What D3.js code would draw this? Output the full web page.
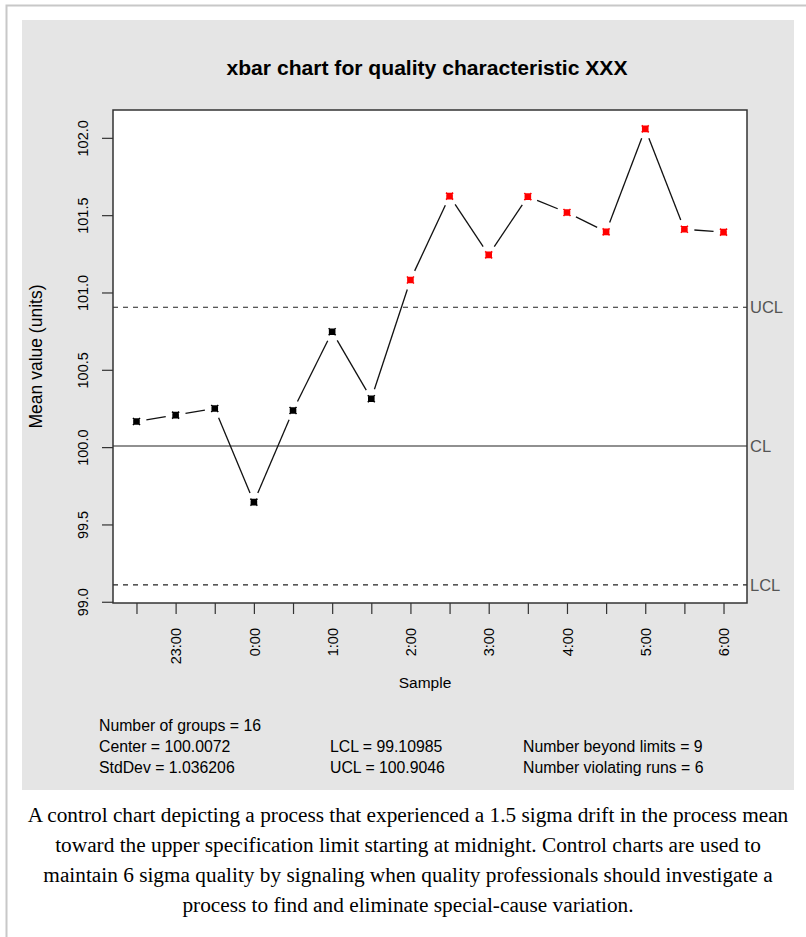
<!DOCTYPE html>
<html lang="en">
<head>
  <meta charset="UTF-8">
  <title>xbar chart</title>
  <style>
    body { margin: 0; background: #fff; }
  </style>
</head>
<body>
  <script src="https://d3js.org/d3.v7.min.js"></script>
  <script>
    // sample index, time labels (every second sample is labelled)
    const samples = d3.range(1, 17);
    const timeLabels = ["", "23:00", "", "0:00", "", "1:00", "", "2:00", "", "3:00", "", "4:00", "", "5:00", "", "6:00"];
    // group means
    const means = [100.166, 100.207, 100.250, 99.644, 100.237, 100.746, 100.313, 101.081,
                   101.623, 101.243, 101.620, 101.517, 101.392, 102.058, 101.409, 101.390];
    const yTicks = [99.0, 99.5, 100.0, 100.5, 101.0, 101.5, 102.0];
    const limits = [
      { name: "UCL", value: 100.9046, dash: "5,5" },
      { name: "CL", value: 100.0072, dash: null },
      { name: "LCL", value: 99.10985, dash: "5,5" }
    ];
    const statsLines = [
      ["Number of groups = 16", "", ""],
      ["Center = 100.0072", "LCL = 99.10985", "Number beyond limits = 9"],
      ["StdDev = 1.036206", "UCL = 100.9046", "Number violating runs = 6"]
    ];
    const captionLines = [
      "A control chart depicting a process that experienced a 1.5 sigma drift in the process mean",
      "toward the upper specification limit starting at midnight. Control charts are used to",
      "maintain 6 sigma quality by signaling when quality professionals should investigate a",
      "process to find and eliminate special-cause variation."
    ];

    const [width, height] = [806, 937];
    const box = { left: 113, right: 747, top: 110, bottom: 603 };
    const sans = "'Liberation Sans', Arial, sans-serif";

    const x = d3.scaleLinear().domain([0.4, 16.6]).range([box.left, box.right]);
    const y = d3.scaleLinear().domain([98.992, 102.18]).range([box.bottom, box.top]);

    const svg = d3.select(document.body)
      .append("svg")
      .attr("width", width)
      .attr("height", height)
      .attr("font-family", sans);

    // frame + grey panel
    svg.append("rect")
      .attr("x", 6.5).attr("y", 5.5)
      .attr("width", width + 10).attr("height", height + 10)
      .attr("fill", "#fff").attr("stroke", "#c8c8c8").attr("stroke-width", 2);
    svg.append("rect")
      .attr("x", 22).attr("y", 20)
      .attr("width", 772).attr("height", 770)
      .attr("fill", "#e5e5e5");

    // plot area
    svg.append("rect")
      .attr("x", box.left).attr("y", box.top)
      .attr("width", box.right - box.left).attr("height", box.bottom - box.top)
      .attr("fill", "#fff");

    svg.append("text")
      .attr("x", 427).attr("y", 75)
      .attr("text-anchor", "middle")
      .attr("font-size", 20).attr("font-weight", "bold")
      .attr("textLength", 401).attr("lengthAdjust", "spacingAndGlyphs")
      .attr("fill", "#000")
      .text("xbar chart for quality characteristic XXX");

    // y axis
    svg.append("g")
      .attr("transform", `translate(${box.left},0)`)
      .call(d3.axisLeft(y).tickValues(yTicks).tickFormat(d3.format(".1f")).tickSize(11).tickSizeOuter(0))
      .call(g => g.select(".domain").remove())
      .call(g => g.selectAll(".tick line").attr("stroke", "#333").attr("stroke-width", 1.2))
      .call(g => g.selectAll(".tick text")
        .attr("transform", "rotate(-90)")
        .attr("x", 0).attr("y", -25).attr("dy", 0)
        .attr("text-anchor", "middle")
        .attr("font-size", 14.5).attr("font-family", sans)
        .attr("fill", "#000"));

    // x axis
    svg.append("g")
      .attr("transform", `translate(0,${box.bottom})`)
      .call(d3.axisBottom(x).tickValues(samples).tickFormat(d => timeLabels[d - 1]).tickSize(11).tickSizeOuter(0))
      .call(g => g.select(".domain").remove())
      .call(g => g.selectAll(".tick line").attr("stroke", "#333").attr("stroke-width", 1.2))
      .call(g => g.selectAll(".tick text")
        .attr("transform", "rotate(-90)")
        .attr("x", -25).attr("y", 0).attr("dy", "0.36em")
        .attr("text-anchor", "end")
        .attr("font-size", 14.5).attr("font-family", sans)
        .attr("fill", "#000"));

    svg.append("text")
      .attr("x", 425).attr("y", 688)
      .attr("text-anchor", "middle")
      .attr("font-size", 15.5)
      .text("Sample");

    svg.append("text")
      .attr("transform", `translate(42,${(box.top + box.bottom) / 2}) rotate(-90)`)
      .attr("text-anchor", "middle")
      .attr("font-size", 17.5)
      .text("Mean value (units)");

    // control limits
    const lim = svg.append("g").selectAll("g").data(limits).join("g");
    lim.append("line")
      .attr("x1", box.left).attr("x2", box.right)
      .attr("y1", d => y(d.value)).attr("y2", d => y(d.value))
      .attr("stroke", "#222").attr("stroke-width", 1.2)
      .attr("stroke-dasharray", d => d.dash);
    lim.append("text")
      .attr("x", box.right + 3).attr("y", d => y(d.value)).attr("dy", "0.36em")
      .attr("font-size", 16.5).attr("fill", "#555")
      .text(d => d.name);

    // connecting line with gaps around points (R type = "b")
    const pts = means.map((v, i) => [x(samples[i]), y(v)]);
    const gap = 10;
    const segs = d3.pairs(pts).map(([a, b]) => {
      const dx = b[0] - a[0], dy = b[1] - a[1];
      const len = Math.hypot(dx, dy);
      const ux = dx / len, uy = dy / len;
      return [a[0] + ux * gap, a[1] + uy * gap, b[0] - ux * gap, b[1] - uy * gap];
    }).filter(s => (s[2] - s[0]) * (pts[1][0] - pts[0][0]) > 0);
    svg.append("g").selectAll("line").data(segs).join("line")
      .attr("x1", d => d[0]).attr("y1", d => d[1])
      .attr("x2", d => d[2]).attr("y2", d => d[3])
      .attr("stroke", "#111").attr("stroke-width", 1.3);

    // points
    const mark = 3.5;
    svg.append("g").selectAll("path").data(means).join("path")
      .attr("transform", (d, i) => `translate(${x(samples[i])},${y(d)})`)
      .attr("d", `M${-mark},${-mark}L${mark},${mark}M${-mark},${mark}L${mark},${-mark}M${-mark + 1},${-mark + 1}h${2 * mark - 2}v${2 * mark - 2}h${-(2 * mark - 2)}Z`)
      .attr("stroke", (d) => (d > limits[0].value || d < limits[2].value) ? "#ff0000" : "#000")
      .attr("fill", (d) => (d > limits[0].value || d < limits[2].value) ? "#ff0000" : "#000")
      .attr("stroke-width", 1.6);

    // box
    svg.append("rect")
      .attr("x", box.left).attr("y", box.top)
      .attr("width", box.right - box.left).attr("height", box.bottom - box.top)
      .attr("fill", "none").attr("stroke", "#333").attr("stroke-width", 1.5);

    // summary stats
    const colX = [99, 330, 523];
    const stats = svg.append("g").attr("font-size", 15.8).attr("fill", "#000");
    statsLines.forEach((row, r) => {
      row.forEach((t, c) => {
        if (t) stats.append("text").attr("x", colX[c]).attr("y", 731 + r * 21).text(t);
      });
    });

    // caption
    svg.append("g")
      .attr("font-family", "'Liberation Serif', 'Times New Roman', serif")
      .attr("font-size", 21.3)
      .attr("text-anchor", "middle")
      .selectAll("text").data(captionLines).join("text")
      .attr("x", 408).attr("y", (d, i) => 822 + i * 30)
      .text(d => d);
  </script>
</body>
</html>
